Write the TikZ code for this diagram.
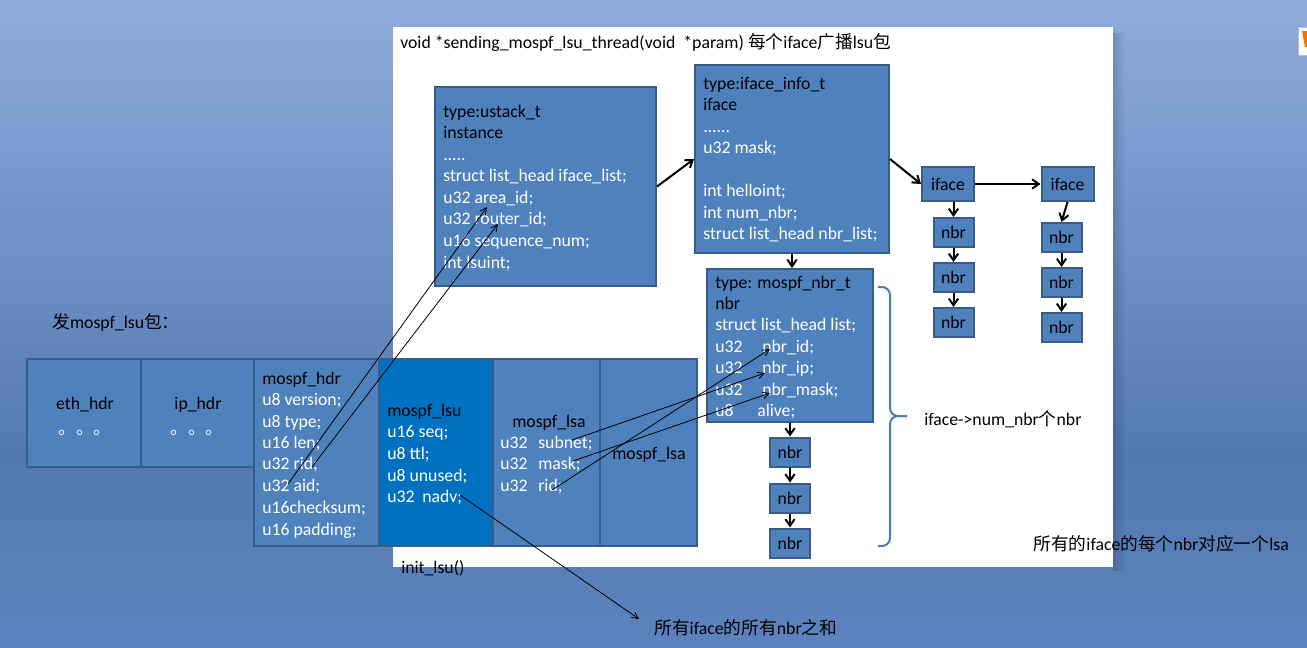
\documentclass[tikz,border=0pt]{standalone}
\usepackage{fontspec}
\setmainfont{Carlito}
\newfontfamily\cjk{Noto Sans CJK SC}
\usetikzlibrary{arrows.meta,fit,fadings}

\definecolor{bgtop}{RGB}{143,172,220}
\definecolor{bgmid}{RGB}{84,121,177}
\definecolor{bgbot}{RGB}{93,131,190}
\definecolor{boxfill}{RGB}{79,129,189}
\definecolor{boxline}{RGB}{56,93,138}
\definecolor{lsufill}{RGB}{0,112,192}
\definecolor{bracecol}{RGB}{74,126,187}
\newcommand{\zh}[1]{{\cjk #1}}
\pgfdeclareverticalshading{bgshade}{100bp}{color(0bp)=(bgbot); color(25bp)=(bgbot); color(40bp)=(bgmid); color(75bp)=(bgtop); color(100bp)=(bgtop)}

\tikzset{
  box/.style={draw=boxline, fill=boxfill, line width=1.5pt, inner sep=0pt},
  sbox/.style={box, minimum width=30pt, minimum height=21.75pt},
  ibox/.style={box, minimum width=39pt, minimum height=25.5pt},
  hd/.style={anchor=west, inner sep=0pt, text=black, text height=8pt, text depth=3.5pt, yshift=-1.5pt},
  fld/.style={hd, text=white},
  bigarrow/.style={line width=1.5pt, -{Straight Barb[length=5pt,width=7pt]}},
  thinarrow/.style={line width=0.6pt, -{Straight Barb[length=5pt,width=5pt]}},
  brace/.style={draw=bracecol, line width=1.5pt, rounded corners=6pt},
}

\begin{document}
\begin{tikzpicture}[x=0.75pt,y=-0.75pt,font=\fontsize{13.3pt}{16pt}\selectfont]
  \useasboundingbox (0,0) rectangle (1307,647);
  \shade[shading=bgshade] (0,0) rectangle (1307,647);
  % page
  \fill[black,opacity=0.15,path fading=east] (1113,33) rectangle (1125,571);
  \fill[white] (393,27) rectangle (1113,567);
  \fill[white,draw=black!25] (1298,27) rectangle (1309,55);
  \fill[orange!85!red] (1302,31) -- (1309,31) -- (1309,47) -- (1305,47) -- cycle;

  \node[hd] (title) at (400,43) {void *sending\_mospf\_lsu\_thread(void\ \ *param) \zh{每个}iface\zh{广播}lsu\zh{包}};

  % structs
  \node[box, fit={(435,87) (656,286)}] (ustack) {};
  \node[hd] (ustype) at (443,112) {type:ustack\_t};
  \node[hd] (usname) at (443,133) {instance};
  \node[fld] (usdots) at (443,155) {.....};
  \node[fld] (uslist) at (443,176) {struct list\_head iface\_list;};
  \node[fld] (usarea) at (443,198) {u32 area\_id;};
  \node[fld] (usrouter) at (443,219) {u32 router\_id;};
  \node[fld] (usseq) at (443,241) {u16 sequence\_num;};
  \node[fld] (uslsuint) at (443,263) {int lsuint;};

  \node[box, fit={(695,65) (889,253)}] (info) {};
  \node[hd] (inftype) at (703,84) {type:iface\_info\_t};
  \node[hd] (infname) at (703,105) {iface};
  \node[fld] (infdots) at (703,127) {......};
  \node[fld] (infmask) at (703,148) {u32 mask;};
  \node[fld] (infhello) at (703,191) {int helloint;};
  \node[fld] (infnum) at (703,213) {int num\_nbr;};
  \node[fld] (inflist) at (703,234) {struct list\_head nbr\_list;};

  \node[box, fit={(707,269) (873,422)}] (nbrt) {};
  \node[hd] (nbtype) at (715,283) {type: mospf\_nbr\_t};
  \node[hd] (nbname) at (715,304) {nbr};
  \node[fld] (nblist) at (715,325) {struct list\_head list;};
  \node[fld] (nbu1) at (715,347) {u32};
  \node[fld] (nbid) at (762,347) {nbr\_id;};
  \node[fld] (nbu2) at (715,368) {u32};
  \node[fld] (nbip) at (762,368) {nbr\_ip;};
  \node[fld] (nbu3) at (715,390) {u32};
  \node[fld] (nbmask) at (762,390) {nbr\_mask;};
  \node[fld] (nbu4) at (715,411) {u8};
  \node[fld] (nbalive) at (757,411) {alive;};

  % lists
  \node[sbox] (m1) at (790,452) {nbr};
  \node[sbox] (m2) at (790,498) {nbr};
  \node[sbox] (m3) at (790,543) {nbr};
  \node[ibox] (if1) at (948,184) {iface};
  \node[ibox] (if2) at (1067.5,184) {iface};
  \node[sbox] (n11) at (953.5,232.5) {nbr};
  \node[sbox] (n12) at (953.5,277.5) {nbr};
  \node[sbox] (n13) at (953.5,322.5) {nbr};
  \node[sbox] (n21) at (1061.5,237.5) {nbr};
  \node[sbox] (n22) at (1061.5,282.5) {nbr};
  \node[sbox] (n23) at (1061.5,327.5) {nbr};

  \draw[bigarrow] (ustack.east) -- (info.west);
  \draw[bigarrow] (info.south) -- (info.south |- nbrt.north);
  \draw[bigarrow] (info.east) -- (if1.west);
  \draw[bigarrow] (if1) -- (if2);
  \draw[bigarrow] (n11.north |- if1.south) -- (n11.north);
  \draw[bigarrow] (n11) -- (n12);
  \draw[bigarrow] (n12) -- (n13);
  \draw[bigarrow] (if2.south) -- (n21.north);
  \draw[bigarrow] (n21) -- (n22);
  \draw[bigarrow] (n22) -- (n23);
  \draw[bigarrow] (nbrt) -- (m1);
  \draw[bigarrow] (m1) -- (m2);
  \draw[bigarrow] (m2) -- (m3);

  \draw[brace] (878,287) -| (890,416) -- (907,416);
  \draw[brace] (878,546) -| (890,416) -- (907,416);
  \node[hd] (numnbr) at (924,420) {iface->num\_nbr\zh{个}nbr};
  \node[hd] (eachnbr) at (1033,545) {\zh{所有的}iface\zh{的每个}nbr\zh{对应一个}lsa};

  % packet
  \node[hd] (sendlbl) at (52,323) {\zh{发}mospf\_lsu\zh{包：}};
  \node[box, fit={(27,359) (141,467)}] (eth) {};
  \node[hd, anchor=center] (ethlbl) at (85,404) {eth\_hdr};
  \node[fld, anchor=base west] (ethdots) at (58,432) {\zh{。。。}};
  \node[box, fit={(141,359) (254,467)}] (ip) {};
  \node[hd, anchor=center] (iplbl) at (198,404) {ip\_hdr};
  \node[fld, anchor=base west] (ipdots) at (170,432) {\zh{。。。}};

  \node[box, fit={(254,359) (379,546)}] (hdr) {};
  \node[hd] (hdrlbl) at (262,379) {mospf\_hdr};
  \node[fld] (hdrver) at (262,400) {u8 version;};
  \node[fld] (hdrtype) at (262,422) {u8 type;};
  \node[fld] (hdrlen) at (262,443) {u16 len;};
  \node[fld] (hdrrid) at (262,464) {u32 rid;};
  \node[fld] (hdraid) at (262,486) {u32 aid;};
  \node[fld] (hdrsum) at (262,508) {u16checksum;};
  \node[fld] (hdrpad) at (262,530) {u16 padding;};

  \node[box, fill=lsufill, fit={(379,359) (493,546)}] (lsu) {};
  \node[hd] (lsulbl) at (387,411) {mospf\_lsu};
  \node[fld] (lsuseq) at (387,432) {u16 seq;};
  \node[fld] (lsuttl) at (387,454) {u8 ttl;};
  \node[fld] (lsuunused) at (387,476) {u8 unused;};
  \node[fld] (lsuu32) at (387,497) {u32};
  \node[fld] (lsunadv) at (422,497) {nadv;};

  \node[box, fit={(493,359) (600,546)}] (lsa1) {};
  \node[hd] (lsalbl) at (512,422) {mospf\_lsa};
  \node[fld] (lsau1) at (500,443) {u32};
  \node[fld] (lsasub) at (538,443) {subnet;};
  \node[fld] (lsau2) at (500,464) {u32};
  \node[fld] (lsamask) at (538,464) {mask;};
  \node[fld] (lsau3) at (500,486) {u32};
  \node[fld] (lsarid) at (538,486) {rid;};
  \node[box, fit={(600,359) (697,546)}] (lsa2) {};
  \node[hd] (lsa2lbl) at (612,454) {mospf\_lsa};

  \node[hd] (initlbl) at (401,568) {init\_lsu()};
  \node[hd] (sumlbl) at (654,629) {\zh{所有}iface\zh{的所有}nbr\zh{之和}};

  % field links
  \coordinate (aidp) at (288,484);
  \coordinate (areap) at (487,207);
  \coordinate (ridp) at (312,467);
  \coordinate (routerp) at (498,224);
  \coordinate (subp) at (572,440);
  \coordinate (ipp) at (765,373);
  \coordinate (maskp) at (573,461);
  \coordinate (nmaskp) at (770,393);
  \coordinate (lridp) at (552,490);
  \coordinate (nidp) at (770,349);
  \coordinate (nadvp) at (460,495);
  \coordinate (sump) at (639,619);
  \draw[thinarrow] (aidp) -- (areap);
  \draw[thinarrow] (ridp) -- (routerp);
  \draw[thinarrow] (subp) -- (ipp);
  \draw[thinarrow] (maskp) -- (nmaskp);
  \draw[thinarrow] (lridp) -- (nidp);
  \draw[thinarrow] (nadvp) -- (sump);
\end{tikzpicture}
\end{document}
